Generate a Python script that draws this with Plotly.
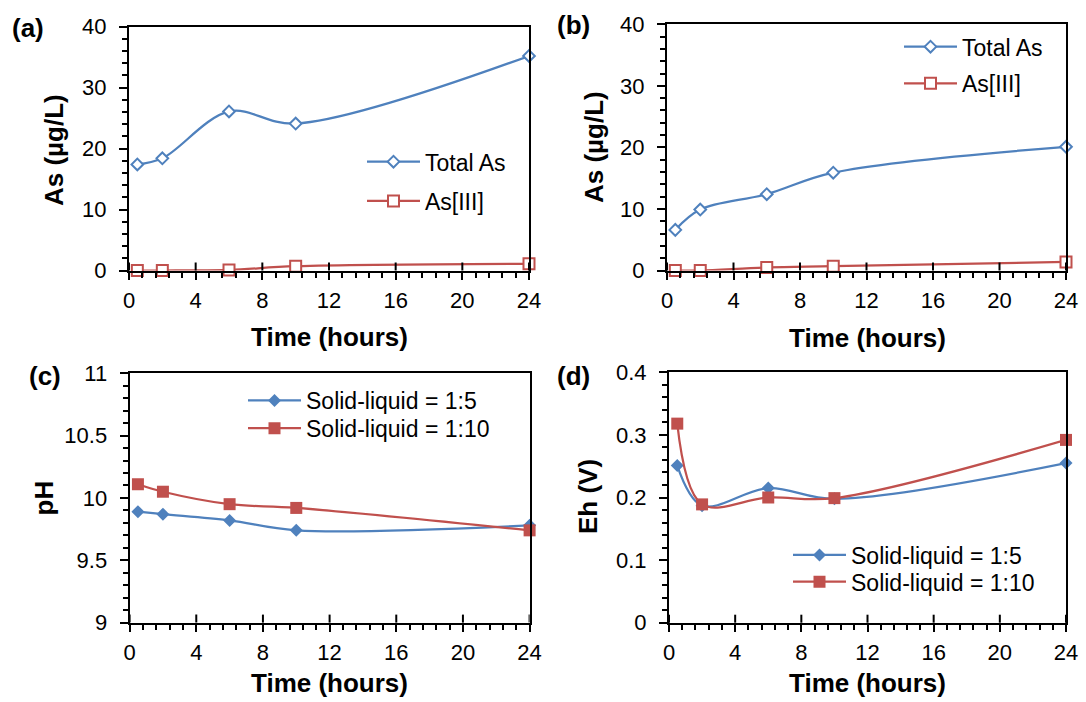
import plotly.graph_objects as go

# Sampling times (hours)
time_h = [0.5, 2, 6, 10, 24]

# (a) and (b): arsenic concentrations, µg/L
a_total_as = [17.4, 18.4, 26.1, 24.1, 35.2]
a_as3 = [0.0, 0.0, 0.1, 0.7, 1.1]
b_total_as = [6.6, 9.9, 12.4, 15.9, 20.1]
b_as3 = [0.0, 0.0, 0.5, 0.7, 1.4]

# (c) pH and (d) Eh for two solid-liquid ratios
ph_1to5 = [9.89, 9.87, 9.82, 9.74, 9.78]
ph_1to10 = [10.11, 10.05, 9.95, 9.92, 9.74]
eh_1to5 = [0.251, 0.187, 0.215, 0.198, 0.255]
eh_1to10 = [0.318, 0.189, 0.200, 0.199, 0.292]

x_ticks = [0, 4, 8, 12, 16, 20, 24]

BLUE = "#4F81BD"
RED = "#C0504D"
FONT = "Liberation Sans, Arial, sans-serif"
W, H = 1086, 702

# subplot boxes in pixels: (left, right), (top, bottom)
panels = {
    1: dict(x=(129, 529), y=(26.7, 270.5), yr=[0, 40], ydt=10, ymin=2),
    2: dict(x=(667, 1066), y=(24.3, 270.5), yr=[0, 40], ydt=10, ymin=2),
    3: dict(x=(129.6, 529.6), y=(373.3, 622.6), yr=[9, 11], ydt=0.5, ymin=0.1),
    4: dict(x=(669, 1066), y=(372.3, 622.7), yr=[0, 0.4], ydt=0.1, ymin=0.02),
}


def px_x(v):
    return v / W


def px_y(v):
    return 1 - v / H


layout = dict(
    template="none", width=W, height=H,
    margin=dict(l=0, r=0, t=0, b=0, autoexpand=False),
    paper_bgcolor="white", plot_bgcolor="white",
    font=dict(family=FONT, size=22, color="black"),
)
shapes = []

for i, p in panels.items():
    sfx = "" if i == 1 else str(i)
    layout["xaxis" + sfx] = dict(
        domain=[px_x(p["x"][0]), px_x(p["x"][1])], anchor="y" + sfx,
        range=[0, 24], tickmode="array", tickvals=x_ticks,
        showgrid=False, zeroline=False, showline=True, linecolor="#000000",
        linewidth=2, mirror=True, ticks="outside", ticklen=7, tickwidth=2,
        tickcolor="#000000", ticklabelstandoff=2,
        tickfont=dict(family=FONT, size=22, color="black"),
        minor=dict(dtick=0.8, tick0=0, ticks="outside", ticklen=5,
                   tickwidth=1.5, tickcolor="#000000"),
    )
    layout["yaxis" + sfx] = dict(
        domain=[px_y(p["y"][1]), px_y(p["y"][0])], anchor="x" + sfx,
        range=p["yr"], tickmode="linear", dtick=p["ydt"], tick0=p["yr"][0],
        showgrid=False, zeroline=False, showline=True, linecolor="#000000",
        linewidth=2, mirror=True, ticks="outside", ticklen=8, tickwidth=2,
        tickcolor="#000000", ticklabelstandoff=8,
        tickfont=dict(family=FONT, size=22, color="black"),
        minor=dict(dtick=p["ymin"], tick0=p["yr"][0], ticks="outside",
                   ticklen=5, tickwidth=1.5, tickcolor="#000000"),
    )
    # inner half of each major x tick (major ticks cross the axis line)
    for t in x_ticks:
        shapes.append(dict(
            type="line", xref="x" + sfx, yref="y%s domain" % sfx,
            x0=t, x1=t, ysizemode="pixel", yanchor=0, y0=0, y1=8,
            line=dict(color="#000000", width=2), layer="above",
        ))
layout["shapes"] = shapes

fig = go.Figure(layout=layout)


def add(x, y, name, color, symbol, size, panel, legend, filled):
    sfx = "" if panel == 1 else str(panel)
    marker = dict(symbol=symbol, size=size, color=color if filled else "white",
                  line=dict(color=color, width=0 if filled else 2))
    fig.add_trace(go.Scatter(
        x=x, y=y, name=name, mode="lines+markers",
        line=dict(color=color, shape="spline", smoothing=1, width=2.25),
        marker=marker, xaxis="x" + sfx, yaxis="y" + sfx, cliponaxis=False,
        legend=legend, showlegend=True,
    ))


add(time_h, a_total_as, "Total As", BLUE, "diamond", 9, 1, "legend", False)
add(time_h, a_as3, "As[III]", RED, "square", 11, 1, "legend2", False)
add(time_h, b_total_as, "Total As", BLUE, "diamond", 9, 2, "legend3", False)
add(time_h, b_as3, "As[III]", RED, "square", 11, 2, "legend4", False)
add(time_h, ph_1to5, "Solid-liquid = 1:5", BLUE, "diamond", 10, 3, "legend5", True)
add(time_h, ph_1to10, "Solid-liquid = 1:10", RED, "square", 12, 3, "legend6", True)
add(time_h, eh_1to5, "Solid-liquid = 1:5", BLUE, "diamond", 10, 4, "legend7", True)
add(time_h, eh_1to10, "Solid-liquid = 1:10", RED, "square", 12, 4, "legend8", True)

# one legend per entry, placed by pixel (line start x, row centre y)
legend_pos = {
    "legend": (367, 161.7), "legend2": (367, 201),
    "legend3": (904, 46.7), "legend4": (904, 83.3),
    "legend5": (248, 400.5), "legend6": (248, 428.3),
    "legend7": (793, 555), "legend8": (793, 581.7),
}
for key, (lx, ly) in legend_pos.items():
    fig.layout[key] = dict(
        x=px_x(lx - 5), y=px_y(ly), xanchor="left", yanchor="middle",
        xref="paper", yref="paper", bgcolor="rgba(0,0,0,0)", borderwidth=0,
        itemwidth=53, font=dict(family=FONT, size=23, color="black"),
    )

# axis titles and panel letters
texts = [
    ("Time (hours)", 329, 337, 0), ("Time (hours)", 867, 338, 0),
    ("Time (hours)", 329, 683, 0), ("Time (hours)", 867, 683, 0),
    ("As (µg/L)", 54, 150, -90), ("As (µg/L)", 594, 147, -90),
    ("pH", 43.5, 498, -90), ("Eh (V)", 588, 497, -90),
    ("(a)", 27.7, 28, 0), ("(b)", 573, 25, 0),
    ("(c)", 45, 376, 0), ("(d)", 573, 376, 0),
]
for t, tx, ty, ang in texts:
    fig.add_annotation(
        text="<b>%s</b>" % t, x=px_x(tx), y=px_y(ty), xref="paper",
        yref="paper", xanchor="center", yanchor="middle", showarrow=False,
        textangle=ang, font=dict(family=FONT, size=26, color="black"),
    )

fig.write_html("out.html")
